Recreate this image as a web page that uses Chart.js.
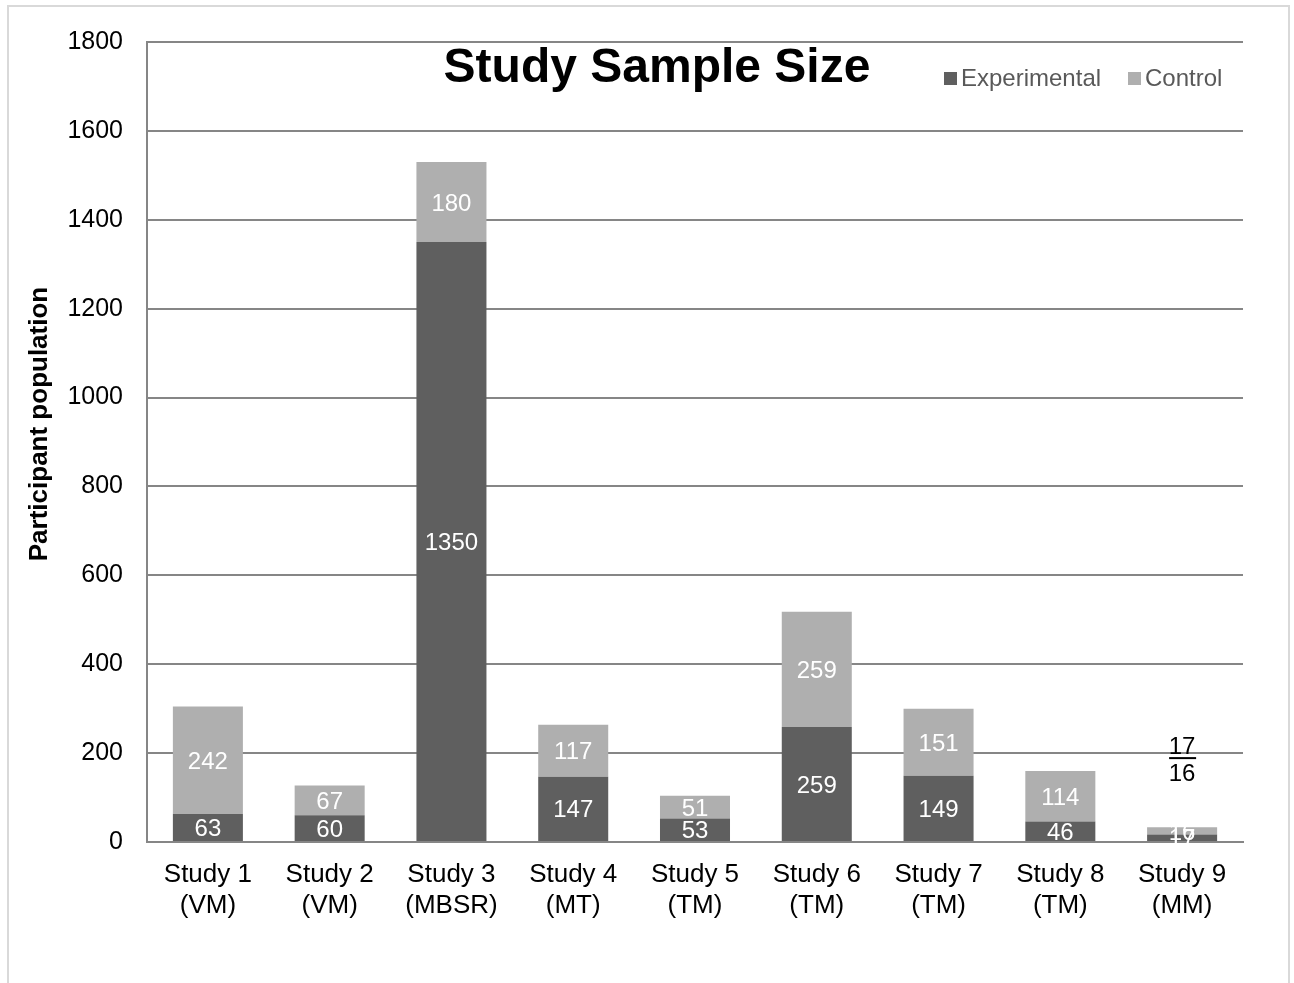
<!DOCTYPE html>
<html>
<head>
<meta charset="utf-8">
<script src="https://cdn.jsdelivr.net/npm/chart.js@4/dist/chart.umd.min.js"></script>
<style>
  html, body { margin: 0; padding: 0; background: #fff; }
  #wrap { position: relative; width: 1294px; height: 983px; overflow: hidden; }
  #frame { position: absolute; left: 7px; top: 5px; width: 1283px; height: 1000px; border: 2px solid #d9d9d9; box-sizing: border-box; }
  canvas { position: absolute; left: 0; top: 0; }
</style>
</head>
<body>
<div id="wrap">
  <div id="frame"></div>
  <canvas id="chart" width="1294" height="983"></canvas>
</div>
<script>
const studies = ['Study 1', 'Study 2', 'Study 3', 'Study 4', 'Study 5', 'Study 6', 'Study 7', 'Study 8', 'Study 9'];
const methods = ['(VM)', '(VM)', '(MBSR)', '(MT)', '(TM)', '(TM)', '(TM)', '(TM)', '(MM)'];
const experimental = [63, 60, 1350, 147, 53, 259, 149, 46, 17];
const control = [242, 67, 180, 117, 51, 259, 151, 114, 16];

const FONT = 'Arial, "Liberation Sans", sans-serif';
const darkGray = '#5f5f5f';
const lightGray = '#afafaf';

// white value labels inside each segment
const valueLabels = {
    id: 'valueLabels',
    afterDatasetsDraw(chart) {
        const ctx = chart.ctx;
        ctx.save();
        ctx.font = '24px ' + FONT;
        ctx.fillStyle = '#ffffff';
        ctx.textAlign = 'center';
        ctx.textBaseline = 'middle';
        chart.data.datasets.forEach((ds, di) => {
            chart.getDatasetMeta(di).data.forEach((bar, i) => {
                const yMid = (bar.y + bar.base) / 2;
                ctx.fillText(String(ds.data[i]), bar.x, yMid + 2);
            });
        });
        ctx.restore();
    }
};

// title, legend, axis title and the call-out for study 9
const extras = {
    id: 'extras',
    afterDraw(chart) {
        const ctx = chart.ctx;
        const x = chart.scales.x;
        const y = chart.scales.y;
        ctx.save();
        ctx.fillStyle = '#000';
        ctx.font = 'bold 48px ' + FONT;
        ctx.textAlign = 'center';
        ctx.textBaseline = 'middle';
        ctx.fillText('Study Sample Size', 657, 69);

        // y axis title
        ctx.save();
        ctx.translate(40, 424);
        ctx.rotate(-Math.PI / 2);
        ctx.font = 'bold 26px ' + FONT;
        ctx.fillText('Participant population', 0, 0);
        ctx.restore();

        // legend
        ctx.font = '24px ' + FONT;
        ctx.textAlign = 'left';
        ctx.fillStyle = darkGray;
        ctx.fillRect(944, 72, 13, 13);
        ctx.fillStyle = '#595959';
        ctx.fillText('Experimental', 961, 79);
        ctx.fillStyle = lightGray;
        ctx.fillRect(1128, 72, 13, 13);
        ctx.fillStyle = '#595959';
        ctx.fillText('Control', 1145, 79);

        // study 9 call-out
        const last = studies.length - 1;
        const cx = x.getPixelForValue(last);
        ctx.fillStyle = '#000';
        ctx.font = '24px ' + FONT;
        ctx.textAlign = 'center';
        ctx.fillText(String(experimental[last]), cx, y.getPixelForValue(214));
        ctx.fillText(String(control[last]), cx, y.getPixelForValue(153));
        ctx.fillRect(cx - 13, y.getPixelForValue(191), 27, 2);
        ctx.restore();
    }
};

new Chart(document.getElementById('chart'), {
    type: 'bar',
    data: {
        labels: studies.map((s, i) => [s, methods[i]]),
        datasets: [
            { label: 'Experimental', data: experimental, backgroundColor: darkGray, categoryPercentage: 1, barPercentage: 0.575 },
            { label: 'Control', data: control, backgroundColor: lightGray, categoryPercentage: 1, barPercentage: 0.575 }
        ]
    },
    options: {
        responsive: false,
        animation: false,
        layout: { padding: { left: 0, top: 42, right: 51, bottom: 0 } },
        plugins: {
            legend: { display: false },
            title: { display: false },
            tooltip: { enabled: false }
        },
        scales: {
            x: {
                stacked: true,
                grid: { display: false, drawTicks: false },
                border: { color: '#868686', width: 2 },
                ticks: { color: '#000', font: { family: FONT, size: 26, lineHeight: 1.2 }, padding: 17, maxRotation: 0, autoSkip: false },
                afterFit(scale) { scale.height = 141; }
            },
            y: {
                stacked: true,
                min: 0,
                max: 1800,
                grid: { color: '#868686', lineWidth: 2, drawTicks: false },
                border: { color: '#868686', width: 2 },
                ticks: { stepSize: 200, color: '#000', font: { family: FONT, size: 25 }, padding: 24, callback: v => String(v) },
                afterFit(scale) { scale.width = 147; }
            }
        }
    },
    plugins: [valueLabels, extras]
});
</script>
</body>
</html>
